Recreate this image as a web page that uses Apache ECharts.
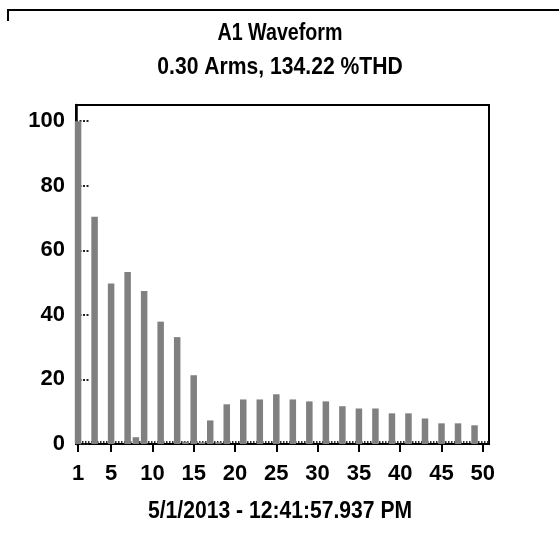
<!DOCTYPE html>
<html>
<head>
<meta charset="utf-8">
<script src="https://cdn.jsdelivr.net/npm/echarts@6/dist/echarts.min.js"></script>
<style>
  html, body { margin: 0; padding: 0; background: #fff; }
  #main { width: 559px; height: 553px; }
</style>
</head>
<body>
<div id="main"></div>
<script>
// harmonic order 1..50
const harmonics = [
  1, 2, 3, 4, 5, 6, 7, 8, 9, 10,
  11, 12, 13, 14, 15, 16, 17, 18, 19, 20,
  21, 22, 23, 24, 25, 26, 27, 28, 29, 30,
  31, 32, 33, 34, 35, 36, 37, 38, 39, 40,
  41, 42, 43, 44, 45, 46, 47, 48, 49, 50
];
// magnitude, % of fundamental
const magnitudes = [
  100, 0, 70.4, 0, 49.7, 0, 53.3, 2.1, 47.4, 0,
  37.9, 0, 33.1, 0.7, 21.3, 0.5, 7.3, 0.5, 12.3, 0,
  13.8, 0, 13.8, 0, 15.4, 0, 13.8, 0, 13.2, 0,
  13.2, 0, 11.7, 0, 11.0, 0, 11.0, 0, 9.5, 0,
  9.5, 0, 7.9, 0, 6.4, 0, 6.4, 0, 5.8, 0
];
const xTickLabels = [1, 5, 10, 15, 20, 25, 30, 35, 40, 45, 50];
const yTickLabels = [0, 20, 40, 60, 80, 100];

const titleText = "A1 Waveform";
const subText = "0.30 Arms, 134.22 %THD";
const dateText = "5/1/2013 - 12:41:57.937 PM";

// no narrow font installed, so the headings get squeezed with scaleX
const FONT = '"Liberation Sans Narrow", "Arial Narrow", "Liberation Sans", sans-serif';

let chartDom = document.getElementById("main");
let myChart = echarts.init(chartDom);
let option;

function headText(text, y, sx) {
  return {
    type: "text",
    x: 280,
    y: y,
    scaleX: sx,
    style: {
      text: text,
      fill: "#000",
      font: "bold 24px " + FONT,
      textAlign: "center",
      textVerticalAlign: "middle",
    },
  };
}

option = {
  animation: false,
  grid: {
    left: 76,
    top: 105,
    right: 70,
    bottom: 109,
    show: true,
    borderColor: "#000",
    borderWidth: 2,
  },
  xAxis: {
    type: "value",
    min: 0.75,
    max: 50.75,
    splitLine: { show: false },
    axisLine: { show: true, onZero: false, lineStyle: { color: "#000", width: 2 } },
    axisTick: {
      show: true,
      customValues: xTickLabels,
      length: 8,
      lineStyle: { color: "#000", width: 2 },
    },
    axisLabel: {
      customValues: xTickLabels,
      margin: 19,
      color: "#000",
      fontFamily: FONT,
      fontWeight: "bold",
      fontSize: 22,
    },
  },
  yAxis: {
    type: "value",
    min: 0,
    max: 105,
    splitLine: { show: false },
    axisLine: { show: true, lineStyle: { color: "#000", width: 2.5 } },
    axisTick: {
      show: true,
      inside: true,
      customValues: yTickLabels,
      length: 13,
      lineStyle: { color: "#222", width: 2, type: [2, 1.5] },
    },
    axisLabel: {
      customValues: yTickLabels,
      margin: 11,
      color: "#000",
      fontFamily: FONT,
      fontWeight: "bold",
      fontSize: 22,
    },
  },
  series: [
    {
      type: "bar",
      z: 3,
      data: harmonics.map(function (h, i) {
        return [h, magnitudes[i]];
      }),
      barWidth: 6.5,
      itemStyle: { color: "#808080" },
      markLine: {
        z: 1,
        silent: true,
        symbol: "none",
        label: { show: false },
        lineStyle: { color: "#333", width: 2, type: [1.5, 1.5] },
        data: [{ yAxis: 0.8 }],
      },
    },
  ],
  graphic: [
    {
      type: "polyline",
      shape: { points: [[8, 21], [8, 10], [559, 10]] },
      style: { stroke: "#000", lineWidth: 2, fill: null },
    },
    headText(titleText, 33, 0.82),
    headText(subText, 67, 0.88),
    headText(dateText, 511, 0.88),
  ],
};

option && myChart.setOption(option);
</script>
</body>
</html>
